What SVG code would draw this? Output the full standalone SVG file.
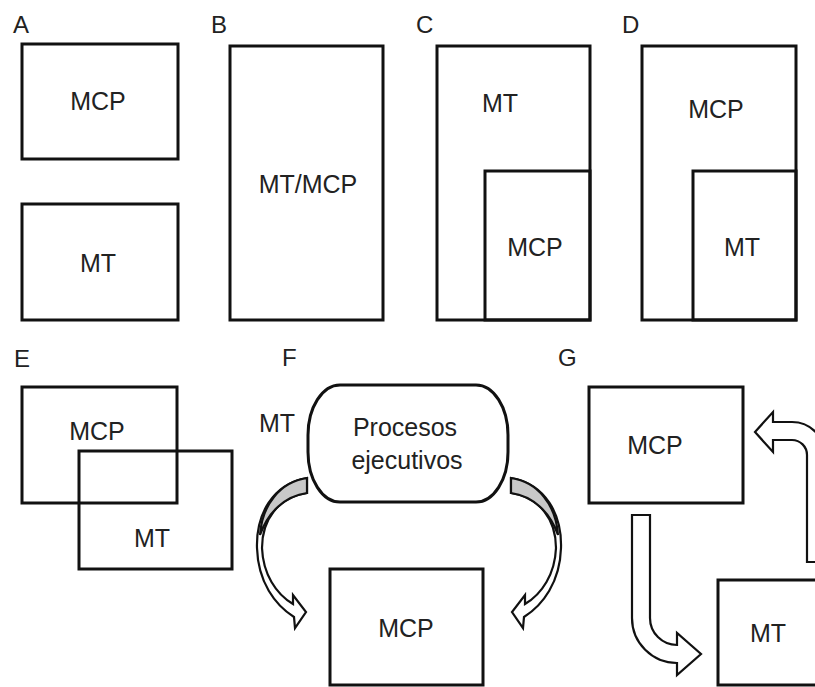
<svg xmlns="http://www.w3.org/2000/svg" width="815" height="687" viewBox="0 0 815 687">
<style>
.box{fill:none;stroke:#111;stroke-width:3}
.t{font-family:"Liberation Sans",Arial,sans-serif;font-size:25px;fill:#222;text-anchor:middle}
.lbl{font-family:"Liberation Sans",Arial,sans-serif;font-size:24px;fill:#222}
.arr{fill:#fff;stroke:#111;stroke-width:2.2;stroke-linejoin:miter}
.gr{fill:#c8c8c8;stroke:#111;stroke-width:2.2}
</style>
<rect width="815" height="687" fill="#fff"/>
<g id="panel-labels">
<text class="lbl" x="13" y="33">A</text>
<text class="lbl" x="211" y="33">B</text>
<text class="lbl" x="416" y="33">C</text>
<text class="lbl" x="622" y="33">D</text>
<text class="lbl" x="14" y="367">E</text>
<text class="lbl" x="282" y="366">F</text>
<text class="lbl" x="558" y="366">G</text>
</g>
<g id="A-MCP"><rect class="box" x="22" y="44" width="156" height="115"/><text class="t" x="98" y="110">MCP</text></g>
<g id="A-MT"><rect class="box" x="22" y="204" width="156" height="116"/><text class="t" x="98" y="272">MT</text></g>
<g id="B-MTMCP"><rect class="box" x="230" y="46" width="153" height="274"/><text class="t" x="308" y="193">MT/MCP</text></g>
<g id="C-MT"><rect class="box" x="437" y="46" width="153" height="274"/><text class="t" x="500" y="112">MT</text></g>
<g id="C-MCP"><rect class="box" x="485" y="171" width="105" height="149"/><text class="t" x="535" y="256">MCP</text></g>
<g id="D-MCP"><rect class="box" x="642" y="46" width="154" height="274"/><text class="t" x="716" y="118">MCP</text></g>
<g id="D-MT"><rect class="box" x="693" y="171" width="103" height="149"/><text class="t" x="742" y="256">MT</text></g>
<g id="E-MCP"><rect class="box" x="22" y="387" width="155" height="116"/><text class="t" x="97" y="440">MCP</text></g>
<g id="E-MT"><rect class="box" x="79" y="451" width="153" height="118"/><text class="t" x="152" y="547">MT</text></g>
<g id="F-MT-label"><text class="t" x="277" y="432">MT</text></g>
<g id="F-procesos"><rect class="box" x="308" y="385" width="200" height="117" rx="32" ry="50"/><text class="t" x="405" y="436">Procesos</text><text class="t" x="407" y="469">ejecutivos</text></g>
<g id="F-MCP"><rect class="box" x="330" y="569" width="153" height="116"/><text class="t" x="406" y="637">MCP</text></g>
<g id="G-MCP"><rect class="box" x="589" y="387" width="154" height="116"/><text class="t" x="655" y="454">MCP</text></g>
<g id="G-MT"><rect class="box" x="718" y="580" width="110" height="105"/><text class="t" x="768" y="642">MT</text></g>
<g id="connectors">
<g id="F-left-arrow">
<path class="arr" d="M307,478 C272,484 256,515 257,548 C258,582 275,605 294,617 L295,628 L306,612 L293,595 L293,604 C276,594 263,574 262,548 C262,520 278,497 307,493 Z"/>
<path class="gr" d="M307,478 L307,493 C285,496 268,512 260,535 C262,505 280,482 307,478 Z"/>
</g>
<g id="F-right-arrow" transform="translate(818,0) scale(-1,1)">
<path class="arr" d="M307,478 C272,484 256,515 257,548 C258,582 275,605 294,617 L295,628 L306,612 L293,595 L293,604 C276,594 263,574 262,548 C262,520 278,497 307,493 Z"/>
<path class="gr" d="M307,478 L307,493 C285,496 268,512 260,535 C262,505 280,482 307,478 Z"/>
</g>
<path class="arr" d="M632,515 H650 V618 A27,27 0 0 0 677,645 V633 L701,654 L677,675 V663 A45,45 0 0 1 632,618 Z"/>
<path class="arr" d="M807,562 V455 A15,15 0 0 0 792,440 H773 V452 L755,432 L773,412 V422 H792 A33,33 0 0 1 825,455 V562 Z"/>
</g>
</svg>
